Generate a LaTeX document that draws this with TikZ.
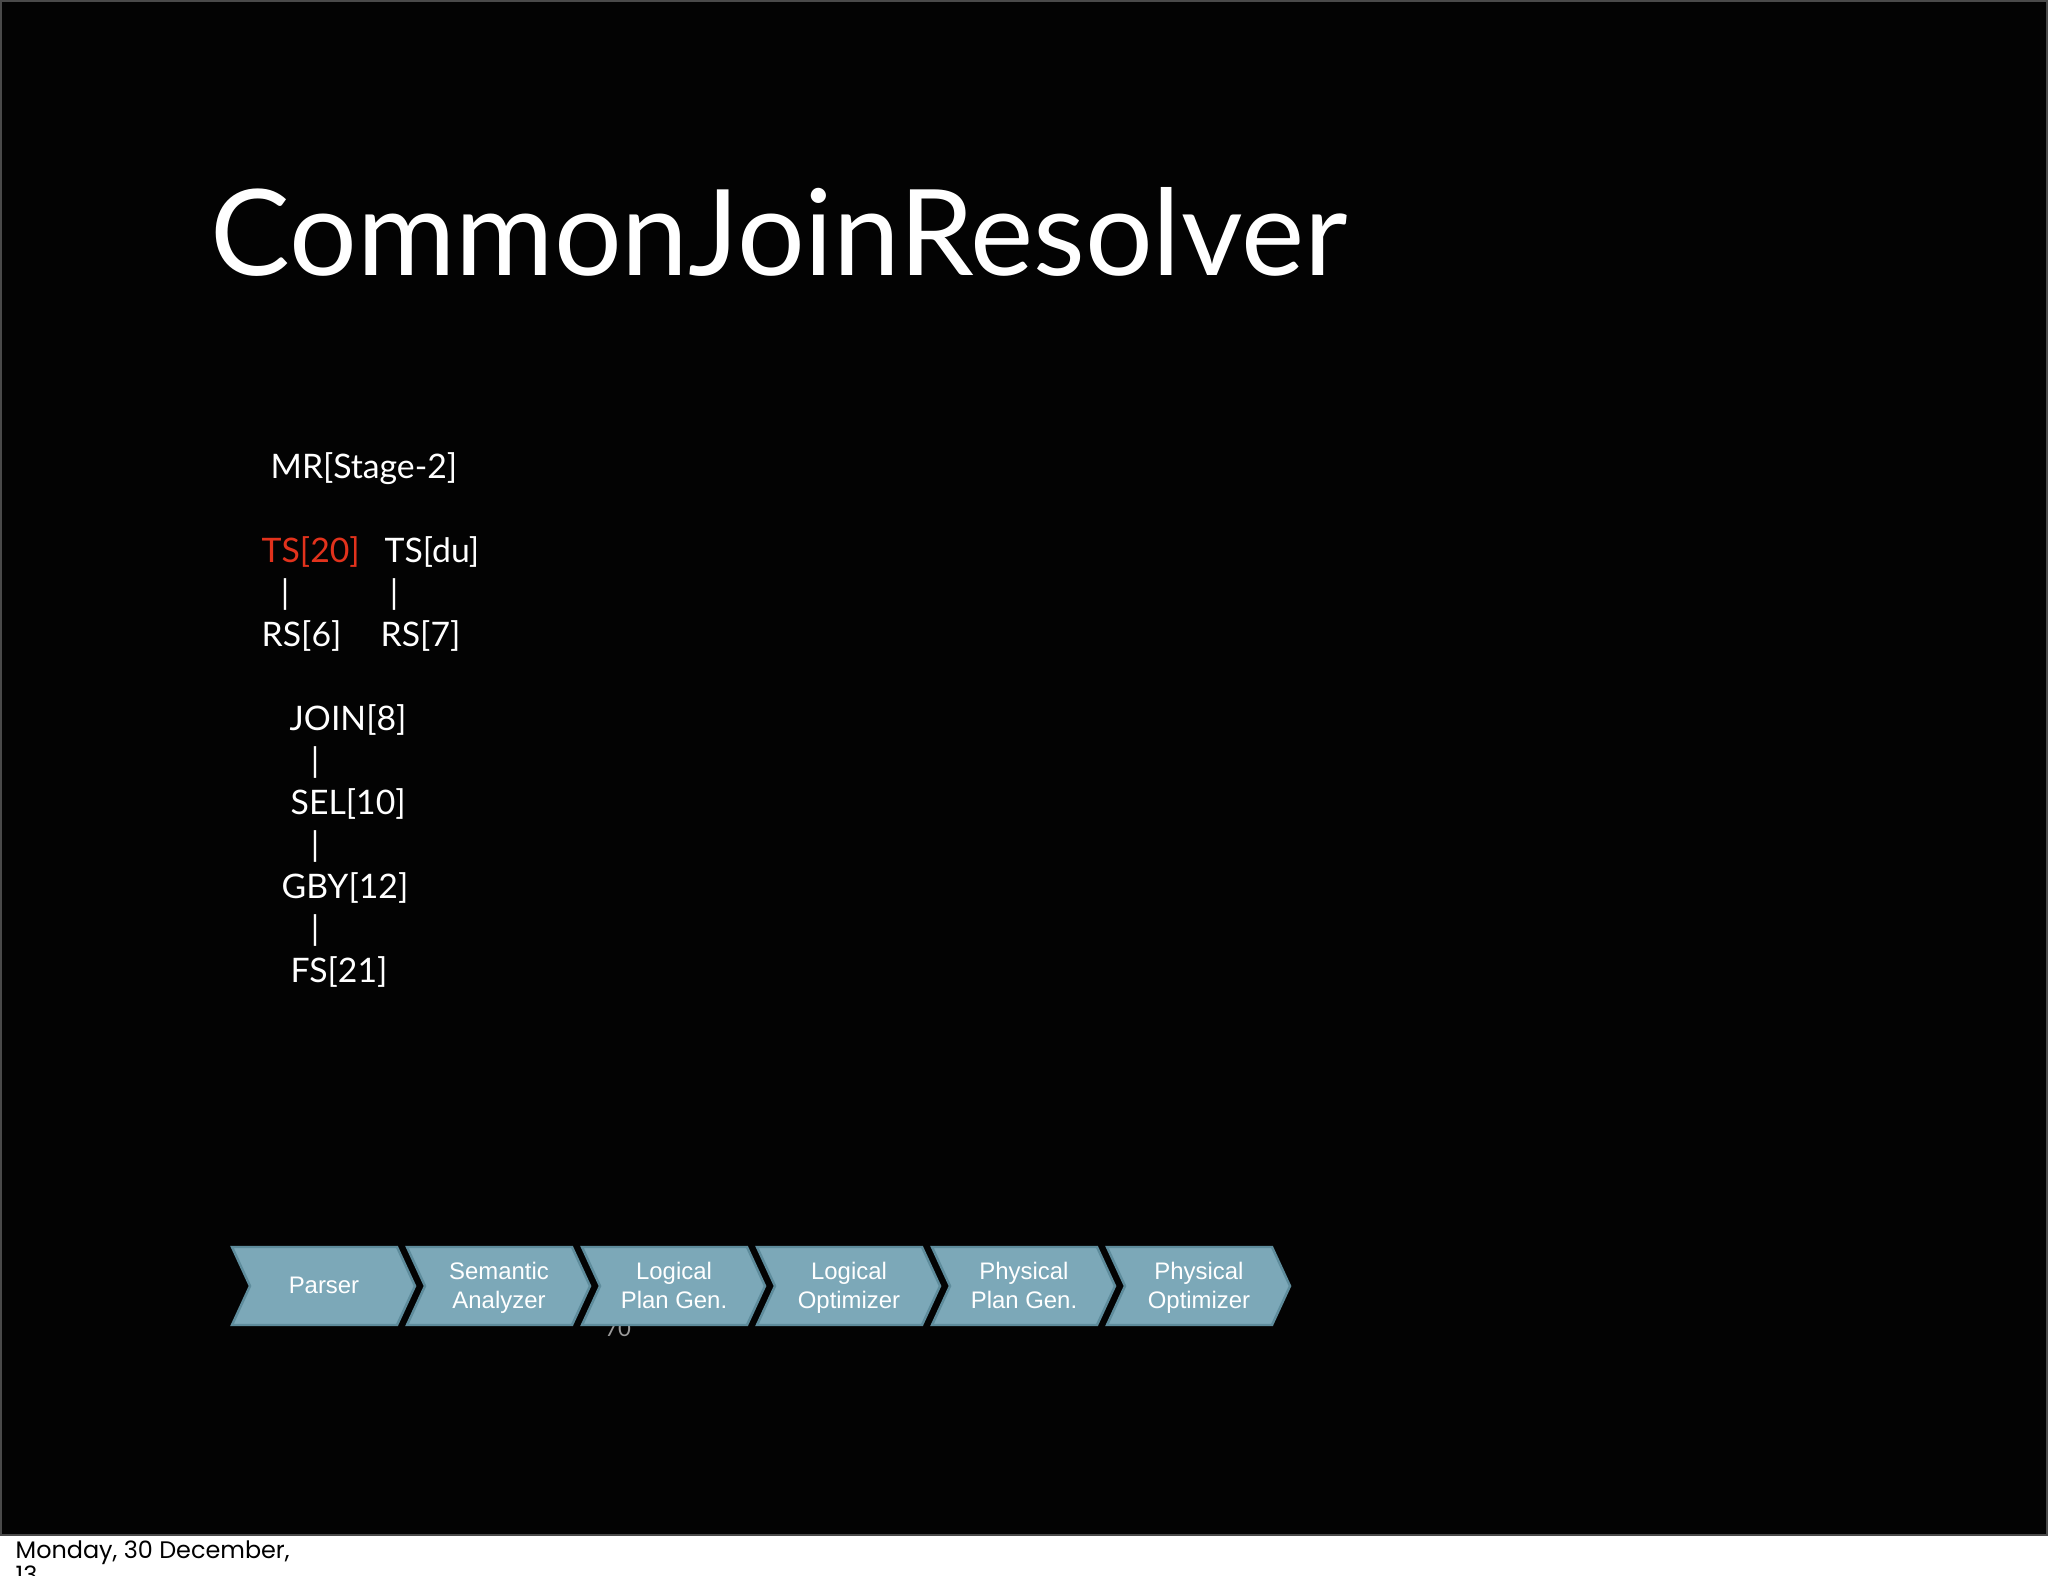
\documentclass[tikz,border=0pt]{standalone}
\usepackage{fontspec}
\setmainfont{Lato}
\newfontfamily\arialfont{Liberation Sans}
\newfontfamily\datefont{Poppins}
\definecolor{slideblack}{HTML}{030303}
\definecolor{slideedge}{HTML}{4A4A4A}
\definecolor{chevfill}{HTML}{7CA8B8}
\definecolor{chevline}{HTML}{5E8C9C}
\definecolor{tsred}{HTML}{E2321C}
\definecolor{pagegrey}{HTML}{9A9A9A}
\begin{document}
\begin{tikzpicture}[x=0.01cm,y=-0.01cm,
  lbl/.style={text=white,font=\fontsize{9.6}{11.5}\selectfont,inner sep=0pt,anchor=base west},
  pipe/.style={text=white,font=\fontsize{9.6}{11.5}\selectfont,inner sep=0pt,anchor=base},
  chevtext/.style={text=white,font=\arialfont\fontsize{6.8}{8.25}\selectfont,align=center,inner sep=0pt},
  chevshape/.style={fill=chevfill,draw=chevline,line width=0.7pt,line join=miter}]
\useasboundingbox (0,0) rectangle (2048,1576);
\clip (0,0) rectangle (2048,1576);
\fill[white] (0,0) rectangle (2048,1576);
\filldraw[fill=slideblack,draw=slideedge,line width=0.6pt] (0.5,0.5) rectangle (2047.5,1535);
% title
\node[anchor=base west,inner sep=0pt,text=white,font=\fontsize{34}{40}\selectfont] (title) at (210,276) {CommonJoinResolver};
% operator tree
\node[lbl] (mr) at (270,478) {MR[Stage-2]};
\node[lbl,text=tsred] (ts20) at (261,562) {TS[20]};
\node[lbl] (tsdu) at (384,562) {TS[du]};
\node[pipe] (p1) at (285,604) {|};
\node[pipe] (p2) at (394,604) {|};
\node[lbl] (rs6) at (261,646) {RS[6]};
\node[lbl] (rs7) at (380,646) {RS[7]};
\node[lbl] (join) at (289,730) {JOIN[8]};
\node[pipe] (p3) at (315,772) {|};
\node[lbl] (sel) at (290,814) {SEL[10]};
\node[pipe] (p4) at (315,856) {|};
\node[lbl] (gby) at (281,898) {GBY[12]};
\node[pipe] (p5) at (315,940) {|};
\node[lbl] (fs) at (290,982) {FS[21]};
% page number (partly hidden behind the chevrons)
\node[text=pagegrey,font=\fontsize{6.3}{7}\selectfont,inner sep=0pt] (pagenum) at (618,1329) {70};
% pipeline chevrons
\foreach \i/\nm/\txt in {0/parser/{Parser\strut},1/semantic/{Semantic\strut\\Analyzer\strut},2/lpg/{Logical\strut\\Plan Gen.\strut},3/lopt/{Logical\strut\\Optimizer\strut},4/ppg/{Physical\strut\\Plan Gen.\strut},5/popt/{Physical\strut\\Optimizer\strut}} {
  \pgfmathsetmacro\L{232+175*\i}
  \draw[chevshape] (\L,1247) -- ++(165,0) -- ++(18,39) -- ++(-18,39) -- ++(-165,0) -- ++(18,-39) -- cycle;
  \node[chevtext] (\nm) at (\L+92,1288) {\txt};
}
% date footer
\node[anchor=base west,inner sep=0pt,text=black,font=\datefont\fontsize{6.8}{7.1}\selectfont] (date) at (15,1558) {Monday, 30 December,};
\node[anchor=base west,inner sep=0pt,text=black,font=\datefont\fontsize{6.8}{7.1}\selectfont] (year) at (15,1583) {13};
\end{tikzpicture}
\end{document}
